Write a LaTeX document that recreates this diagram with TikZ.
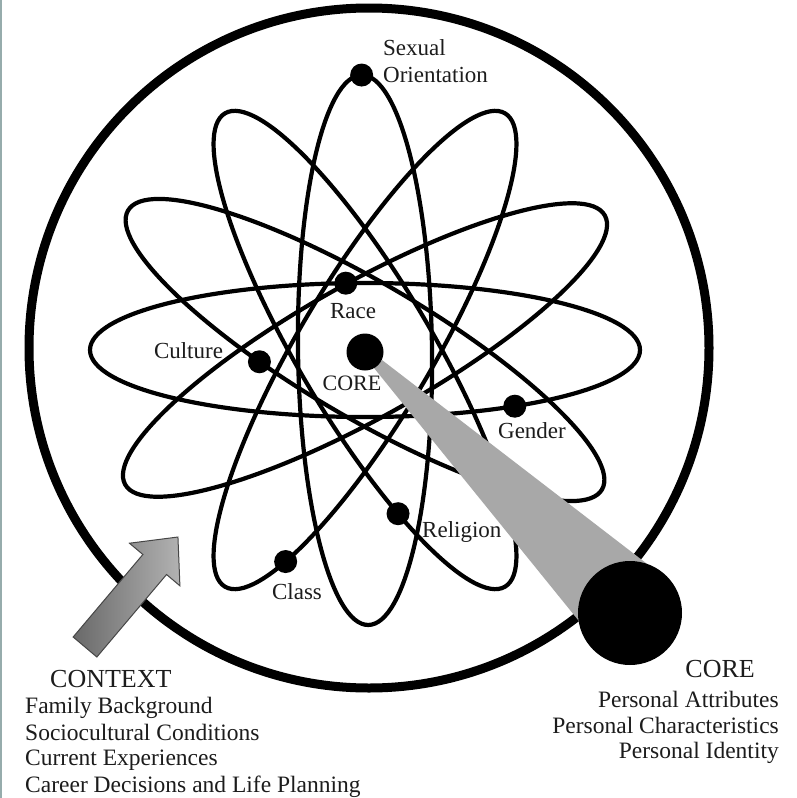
\documentclass[tikz,border=0pt]{standalone}
\usepackage{fontspec}
\setmainfont{Liberation Serif}
\definecolor{conegray}{RGB}{168,168,168}
\definecolor{txt}{RGB}{28,28,28}
\definecolor{edgeline}{RGB}{150,172,172}
\definecolor{arrowdark}{RGB}{105,105,105}
\definecolor{arrowlight}{RGB}{178,178,178}
\definecolor{arrowedge}{RGB}{70,70,70}
\tikzset{
  orbit/.style={draw=black, line width=4.2pt},
  electron/.style={circle, fill=black, inner sep=0pt, minimum size=23pt},
  lbl/.style={font=\fontsize{23}{27}\selectfont, text=txt, inner sep=0pt},
  listtxt/.style={font=\fontsize{23.5}{27}\selectfont, text=txt, inner sep=0pt},
  headtxt/.style={font=\fontsize{26}{30}\selectfont, text=txt, inner sep=0pt},
  corelbl/.style={font=\fontsize{22}{26}\selectfont, text=txt, inner sep=0pt}
}
\begin{document}
\begin{tikzpicture}[x=1pt,y=1pt]
\useasboundingbox (0,0) rectangle (796,-798);
\fill[white] (0,0) rectangle (796,-798);
\draw[edgeline, line width=2pt] (1,0) -- (1,-798);

% outer circle
\draw[line width=9pt] (369,-348) circle[radius=340pt];

% orbits
\coordinate (c) at (365,-350);
\foreach \ang in {0, 29.3, 59.4, 90.7, 120.6, 149.5} {
  \begin{scope}[shift={(c)}, rotate=\ang]
    \draw[orbit] (0,0) ellipse[x radius=275pt, y radius=67pt];
  \end{scope}
}
% electron positions on orbits
\begin{scope}[shift={(c)}, rotate=0]
  \coordinate (pRace) at (94:275 and 67);
  \coordinate (pGender) at (-57:275 and 67);
\end{scope}
\begin{scope}[shift={(c)}, rotate=149.5]
  \coordinate (pCulture) at (72:275 and 67);
\end{scope}
\begin{scope}[shift={(c)}, rotate=120.6]
  \coordinate (pReligion) at (125:275 and 67);
\end{scope}
\begin{scope}[shift={(c)}, rotate=59.4]
  \coordinate (pClass) at (216:275 and 67);
\end{scope}
\begin{scope}[shift={(c)}, rotate=90.7]
  \coordinate (pSex) at (0:275 and 67);
\end{scope}

% cone from core to big core
\fill[conegray] (382,-360) -- (657.6,-572) -- (630,-613) -- (587,-631) -- (374,-368) -- cycle;

% electrons
\node[electron] (eSex) at (pSex) {};
\node[electron] (eRace) at (pRace) {};
\node[electron] (eGender) at (pGender) {};
\node[electron] (eCulture) at (pCulture) {};
\node[electron] (eReligion) at (pReligion) {};
\node[electron] (eClass) at (pClass) {};
\node[circle, fill=black, inner sep=0pt, minimum size=37pt] (core) at (365,-352) {};
\node[circle, fill=black, inner sep=0pt, minimum size=104pt] (bigcore) at (630,-613) {};

% context arrow
\begin{scope}[shift={(85,-647)}, rotate=49.8]
  \shade[left color=arrowdark, right color=arrowlight, draw=arrowedge, line width=1pt, line join=miter]
    (0,-15.5) -- (108,-15.5) -- (108,-33) -- (144,0) -- (108,33) -- (108,15.5) -- (0,15.5) -- cycle;
\end{scope}

% labels
\node[lbl, anchor=base west] (tSexual) at (383,-55) {Sexual};
\node[lbl, anchor=base west] (tOrient) at (383,-82) {Orientation};
\node[lbl, anchor=base] (tRace) at (353,-318) {Race};
\node[lbl, anchor=base] (tCulture) at (188.5,-358) {Culture};
\node[corelbl, anchor=base] (tCore) at (352,-390) {CORE};
\node[lbl, anchor=base] (tGender) at (532,-438) {Gender};
\node[lbl, anchor=base west] (tReligion) at (422,-537) {Religion};
\node[lbl, anchor=base] (tClass) at (297,-599) {Class};

% context text
\node[headtxt, anchor=base west] (ctx) at (50,-687) {CONTEXT};
\node[listtxt, anchor=base west] (ctx1) at (25,-713) {Family Background};
\node[listtxt, anchor=base west] (ctx2) at (25,-740) {Sociocultural Conditions};
\node[listtxt, anchor=base west] (ctx3) at (25,-765) {Current Experiences};
\node[listtxt, anchor=base west] (ctx4) at (25,-792) {Career Decisions and Life Planning};

% core text
\node[headtxt, anchor=base east] (cr) at (755,-677) {CORE};
\node[listtxt, anchor=base east] (cr1) at (779,-707) {Personal Attributes};
\node[listtxt, anchor=base east] (cr2) at (779,-733) {Personal Characteristics};
\node[listtxt, anchor=base east] (cr3) at (779,-758) {Personal Identity};
\end{tikzpicture}
\end{document}
